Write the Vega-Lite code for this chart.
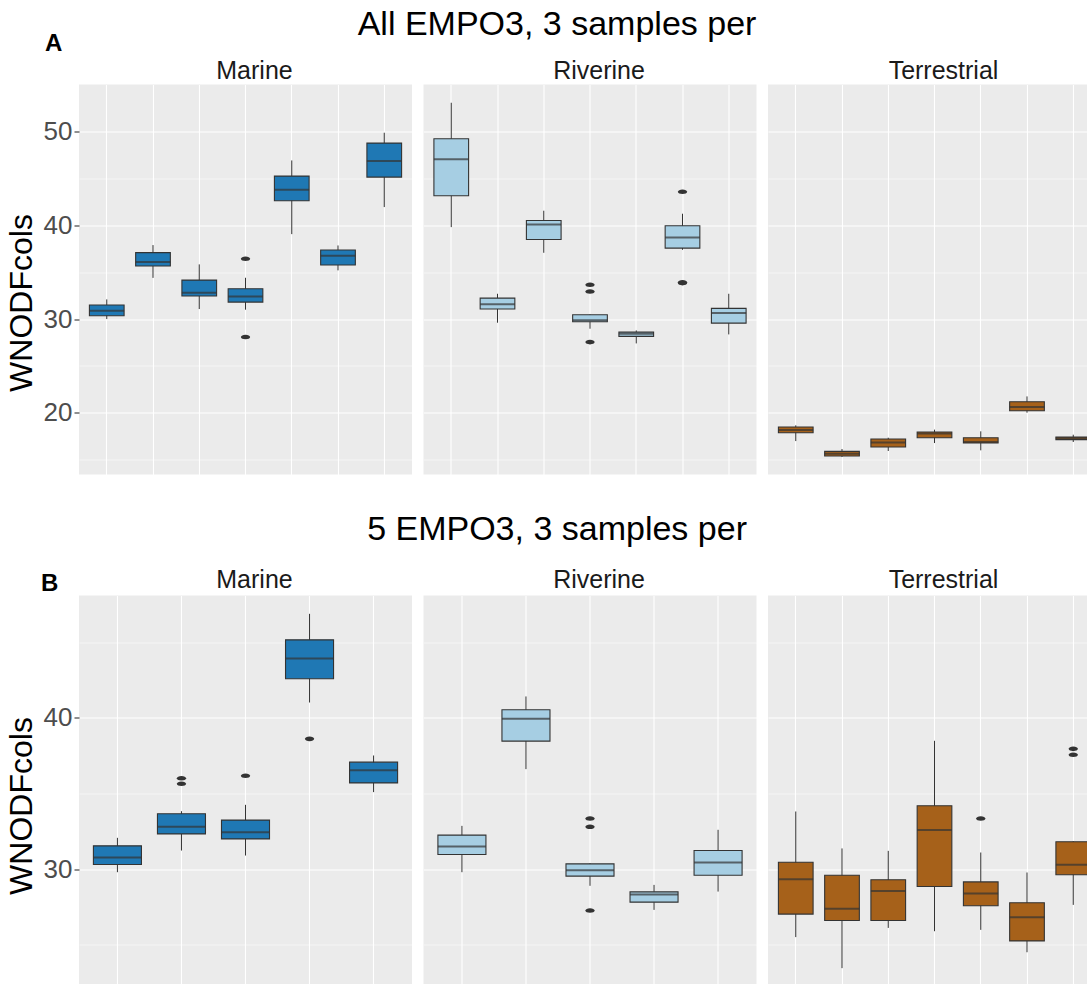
{
"$schema": "https://vega.github.io/schema/vega-lite/v6.json",
"padding": {"left": 5, "top": 7.5, "right": 0, "bottom": 0},
"background": "white",
"config": {
 "font": "Liberation Sans",
 "view": {"fill": "#ebebeb", "stroke": null},
 "title": {"font": "Liberation Sans", "fontWeight": "normal", "color": "#000000"},
 "axisX": {"domain": false, "ticks": false, "labels": false, "grid": true, "gridColor": "#ffffff", "gridWidth": 1.1},
 "axisY": {"domain": false, "tickColor": "#333333", "tickSize": 5, "tickWidth": 1.1, "labelFontSize": 26, "labelColor": "#4d4d4d", "labelPadding": 2, "labelFont": "Liberation Sans", "titleFont": "Liberation Sans", "titleFontSize": 32, "titleColor": "#000000", "titleFontWeight": "normal", "titlePadding": 5, "gridColor": "#ffffff"}
},
"datasets": {
 "boxes": [
  {"row":"A","panel":"Marine","group":"1","lw":30.0,"q1":30.36,"med":30.9,"q3":31.5,"uw":32.1},
  {"row":"A","panel":"Marine","group":"2","lw":34.4,"q1":35.66,"med":36.1,"q3":37.1,"uw":37.9},
  {"row":"A","panel":"Marine","group":"3","lw":31.07,"q1":32.46,"med":32.8,"q3":34.16,"uw":35.84},
  {"row":"A","panel":"Marine","group":"4","lw":31.0,"q1":31.81,"med":32.42,"q3":33.24,"uw":34.41},
  {"row":"A","panel":"Marine","group":"5","lw":39.07,"q1":42.63,"med":43.81,"q3":45.27,"uw":46.94},
  {"row":"A","panel":"Marine","group":"6","lw":35.2,"q1":35.77,"med":36.76,"q3":37.37,"uw":37.86},
  {"row":"A","panel":"Marine","group":"7","lw":41.96,"q1":45.16,"med":46.87,"q3":48.79,"uw":49.9},
  {"row":"A","panel":"Riverine","group":"1","lw":39.82,"q1":43.17,"med":47.08,"q3":49.25,"uw":53.1},
  {"row":"A","panel":"Riverine","group":"2","lw":29.61,"q1":31.07,"med":31.57,"q3":32.24,"uw":32.7},
  {"row":"A","panel":"Riverine","group":"3","lw":37.08,"q1":38.5,"med":40.11,"q3":40.53,"uw":41.57},
  {"row":"A","panel":"Riverine","group":"4","lw":28.97,"q1":29.72,"med":29.86,"q3":30.46,"uw":30.5},
  {"row":"A","panel":"Riverine","group":"5","lw":27.4,"q1":28.15,"med":28.43,"q3":28.61,"uw":28.79},
  {"row":"A","panel":"Riverine","group":"6","lw":37.4,"q1":37.58,"med":38.72,"q3":39.96,"uw":41.25},
  {"row":"A","panel":"Riverine","group":"7","lw":28.36,"q1":29.57,"med":30.64,"q3":31.14,"uw":32.7},
  {"row":"A","panel":"Terrestrial","group":"1","lw":16.97,"q1":17.86,"med":18.15,"q3":18.47,"uw":18.65},
  {"row":"A","panel":"Terrestrial","group":"2","lw":15.27,"q1":15.37,"med":15.62,"q3":15.87,"uw":16.12},
  {"row":"A","panel":"Terrestrial","group":"3","lw":15.91,"q1":16.33,"med":16.83,"q3":17.19,"uw":17.33},
  {"row":"A","panel":"Terrestrial","group":"4","lw":16.76,"q1":17.33,"med":17.79,"q3":17.94,"uw":18.19},
  {"row":"A","panel":"Terrestrial","group":"5","lw":15.98,"q1":16.76,"med":16.87,"q3":17.33,"uw":18.01},
  {"row":"A","panel":"Terrestrial","group":"6","lw":20.0,"q1":20.21,"med":20.6,"q3":21.17,"uw":21.74},
  {"row":"A","panel":"Terrestrial","group":"7","lw":16.87,"q1":17.12,"med":17.3,"q3":17.4,"uw":17.65},
  {"row":"B","panel":"Marine","group":"1","lw":29.8,"q1":30.31,"med":30.77,"q3":31.54,"uw":32.07},
  {"row":"B","panel":"Marine","group":"2","lw":31.23,"q1":32.33,"med":32.8,"q3":33.66,"uw":33.83},
  {"row":"B","panel":"Marine","group":"3","lw":30.9,"q1":32.0,"med":32.44,"q3":33.24,"uw":34.25},
  {"row":"B","panel":"Marine","group":"4","lw":41.01,"q1":42.58,"med":43.92,"q3":45.15,"uw":46.87},
  {"row":"B","panel":"Marine","group":"5","lw":35.09,"q1":35.7,"med":36.54,"q3":37.07,"uw":37.51},
  {"row":"B","panel":"Riverine","group":"1","lw":29.8,"q1":30.97,"med":31.5,"q3":32.25,"uw":32.86},
  {"row":"B","panel":"Riverine","group":"2","lw":36.61,"q1":38.46,"med":39.93,"q3":40.53,"uw":41.41},
  {"row":"B","panel":"Riverine","group":"3","lw":28.9,"q1":29.54,"med":29.93,"q3":30.35,"uw":30.4},
  {"row":"B","panel":"Riverine","group":"4","lw":27.31,"q1":27.82,"med":28.33,"q3":28.5,"uw":28.96},
  {"row":"B","panel":"Riverine","group":"5","lw":28.52,"q1":29.6,"med":30.44,"q3":31.23,"uw":32.6},
  {"row":"B","panel":"Terrestrial","group":"1","lw":25.51,"q1":27.03,"med":29.34,"q3":30.46,"uw":33.81},
  {"row":"B","panel":"Terrestrial","group":"2","lw":23.46,"q1":26.61,"med":27.38,"q3":29.6,"uw":31.37},
  {"row":"B","panel":"Terrestrial","group":"3","lw":26.12,"q1":26.61,"med":28.55,"q3":29.3,"uw":31.21},
  {"row":"B","panel":"Terrestrial","group":"4","lw":25.9,"q1":28.85,"med":32.58,"q3":34.19,"uw":38.48},
  {"row":"B","panel":"Terrestrial","group":"5","lw":25.99,"q1":27.58,"med":28.39,"q3":29.16,"uw":31.1},
  {"row":"B","panel":"Terrestrial","group":"6","lw":24.51,"q1":25.26,"med":26.83,"q3":27.78,"uw":29.78},
  {"row":"B","panel":"Terrestrial","group":"7","lw":27.64,"q1":29.63,"med":30.29,"q3":31.81,"uw":31.85}
 ],
 "outliers": [
  {"row":"A","panel":"Marine","group":"4","value":36.44},
  {"row":"A","panel":"Marine","group":"4","value":28.08},
  {"row":"A","panel":"Riverine","group":"4","value":33.67},
  {"row":"A","panel":"Riverine","group":"4","value":32.95},
  {"row":"A","panel":"Riverine","group":"4","value":27.54},
  {"row":"A","panel":"Riverine","group":"6","value":43.6},
  {"row":"A","panel":"Riverine","group":"6","value":33.84},
  {"row":"A","panel":"Riverine","group":"6","value":33.92},
  {"row":"B","panel":"Marine","group":"2","value":36.01},
  {"row":"B","panel":"Marine","group":"2","value":35.64},
  {"row":"B","panel":"Marine","group":"3","value":36.17},
  {"row":"B","panel":"Marine","group":"4","value":38.61},
  {"row":"B","panel":"Riverine","group":"3","value":33.35},
  {"row":"B","panel":"Riverine","group":"3","value":32.8},
  {"row":"B","panel":"Riverine","group":"3","value":27.27},
  {"row":"B","panel":"Terrestrial","group":"5","value":33.35},
  {"row":"B","panel":"Terrestrial","group":"7","value":37.95},
  {"row":"B","panel":"Terrestrial","group":"7","value":37.56}
 ]
},
"spacing": 38,
"vconcat": [
 {"title": {"text": "A", "anchor": "start", "frame": "bounds", "fontWeight": "bold", "fontSize": 24, "dx": 40, "dy": 51.5},
  "vconcat": [
   {"title": {"text": "All EMPO3, 3 samples per", "fontSize": 34, "anchor": "middle", "frame": "bounds", "offset": 16.5, "dx": 4},
    "spacing": 11.5,
    "hconcat": [
     {"width": 333, "height": 390,
      "title": {"text": "Marine", "fontSize": 25, "color": "#1a1a1a", "dx": 9, "offset": 1},
      "data": {"name": "boxes"},
      "transform": [{"filter": "datum.row === 'A' && datum.panel === 'Marine'"}],
      "encoding": {"x": {"field": "group", "type": "nominal", "title": null, "scale": {"paddingInner": 0, "paddingOuter": 0.1}}},
      "layer": [
       {"mark": {"type": "rule", "color": "#333333", "strokeWidth": 1},
        "encoding": {"y": {"field": "lw", "type": "quantitative", "title": "WNODFcols", "scale": {"domain": [13.4, 55.05], "nice": false, "zero": false},
          "axis": {"values": [15,20,25,30,35,40,45,50], "titleY": 218, "labelExpr": "datum.value % 10 === 0 ? datum.label : ''", "tickOpacity": {"condition": {"test": "datum.value % 10 === 0", "value": 1}, "value": 0}, "gridWidth": {"condition": {"test": "datum.value % 10 === 0", "value": 1.1}, "value": 0.55}}},
         "y2": {"field": "uw"}}},
       {"mark": {"type": "bar", "width": {"band": 0.75}, "fill": "#1f78b4", "stroke": "#333333", "strokeWidth": 1.1},
        "encoding": {"y": {"field": "q1", "type": "quantitative", "title": "WNODFcols", "scale": {"domain": [13.4, 55.05], "nice": false, "zero": false}}, "y2": {"field": "q3"}}},
       {"mark": {"type": "tick", "color": "#333333", "thickness": 2, "size": 34.7},
        "encoding": {"y": {"field": "med", "type": "quantitative", "title": "WNODFcols", "scale": {"domain": [13.4, 55.05], "nice": false, "zero": false}}}},
       {"data": {"name": "outliers"}, "transform": [{"filter": "datum.row === 'A' && datum.panel === 'Marine'"}],
        "mark": {"type": "point", "filled": true, "color": "#333333", "opacity": 1, "size": 85, "shape": "M-1,0A1,0.5 0 1,1 1,0A1,0.5 0 1,1 -1,0Z"},
        "encoding": {"y": {"field": "value", "type": "quantitative", "title": "WNODFcols", "scale": {"domain": [13.4, 55.05], "nice": false, "zero": false}}}}
      ]},
     {"width": 333, "height": 390,
      "title": {"text": "Riverine", "fontSize": 25, "color": "#1a1a1a", "dx": 9, "offset": 1},
      "data": {"name": "boxes"},
      "transform": [{"filter": "datum.row === 'A' && datum.panel === 'Riverine'"}],
      "encoding": {"x": {"field": "group", "type": "nominal", "title": null, "scale": {"paddingInner": 0, "paddingOuter": 0.1}}},
      "layer": [
       {"mark": {"type": "rule", "color": "#333333", "strokeWidth": 1},
        "encoding": {"y": {"field": "lw", "type": "quantitative", "title": null, "scale": {"domain": [13.4, 55.05], "nice": false, "zero": false},
          "axis": {"values": [15,20,25,30,35,40,45,50], "labels": false, "ticks": false, "gridWidth": {"condition": {"test": "datum.value % 10 === 0", "value": 1.1}, "value": 0.55}}},
         "y2": {"field": "uw"}}},
       {"mark": {"type": "bar", "width": {"band": 0.75}, "fill": "#a6cee3", "stroke": "#333333", "strokeWidth": 1.1},
        "encoding": {"y": {"field": "q1", "type": "quantitative", "title": null, "scale": {"domain": [13.4, 55.05], "nice": false, "zero": false}}, "y2": {"field": "q3"}}},
       {"mark": {"type": "tick", "color": "#333333", "thickness": 2, "size": 34.7},
        "encoding": {"y": {"field": "med", "type": "quantitative", "title": null, "scale": {"domain": [13.4, 55.05], "nice": false, "zero": false}}}},
       {"data": {"name": "outliers"}, "transform": [{"filter": "datum.row === 'A' && datum.panel === 'Riverine'"}],
        "mark": {"type": "point", "filled": true, "color": "#333333", "opacity": 1, "size": 85, "shape": "M-1,0A1,0.5 0 1,1 1,0A1,0.5 0 1,1 -1,0Z"},
        "encoding": {"y": {"field": "value", "type": "quantitative", "title": null, "scale": {"domain": [13.4, 55.05], "nice": false, "zero": false}}}}
      ]},
     {"width": 321, "height": 390,
      "title": {"text": "Terrestrial", "fontSize": 25, "color": "#1a1a1a", "dx": 15, "offset": 1},
      "data": {"name": "boxes"},
      "transform": [{"filter": "datum.row === 'A' && datum.panel === 'Terrestrial'"}],
      "encoding": {"x": {"field": "group", "type": "nominal", "title": null, "scale": {"paddingInner": 0, "paddingOuter": 0.1, "range": [0, 333]}}},
      "layer": [
       {"mark": {"type": "rule", "color": "#333333", "strokeWidth": 1, "clip": true},
        "encoding": {"y": {"field": "lw", "type": "quantitative", "title": null, "scale": {"domain": [13.4, 55.05], "nice": false, "zero": false},
          "axis": {"values": [15,20,25,30,35,40,45,50], "labels": false, "ticks": false, "gridWidth": {"condition": {"test": "datum.value % 10 === 0", "value": 1.1}, "value": 0.55}}},
         "y2": {"field": "uw"}}},
       {"mark": {"type": "bar", "width": {"band": 0.75}, "fill": "#a6611a", "stroke": "#333333", "strokeWidth": 1.1, "clip": true},
        "encoding": {"y": {"field": "q1", "type": "quantitative", "title": null, "scale": {"domain": [13.4, 55.05], "nice": false, "zero": false}}, "y2": {"field": "q3"}}},
       {"mark": {"type": "tick", "color": "#333333", "thickness": 2, "size": 34.7, "clip": true},
        "encoding": {"y": {"field": "med", "type": "quantitative", "title": null, "scale": {"domain": [13.4, 55.05], "nice": false, "zero": false}}}}
      ]}
    ]}
  ]},
 {"title": {"text": "B", "anchor": "start", "frame": "bounds", "fontWeight": "bold", "fontSize": 24, "dx": 36, "dy": 87},
  "vconcat": [
   {"title": {"text": "5 EMPO3, 3 samples per", "fontSize": 34, "anchor": "middle", "frame": "bounds", "offset": 21, "dx": 4},
    "spacing": 11.5,
    "hconcat": [
     {"width": 333, "height": 389,
      "title": {"text": "Marine", "fontSize": 25, "color": "#1a1a1a", "dx": 9, "offset": 3},
      "data": {"name": "boxes"},
      "transform": [{"filter": "datum.row === 'B' && datum.panel === 'Marine'"}],
      "encoding": {"x": {"field": "group", "type": "nominal", "title": null, "scale": {"paddingInner": 0, "paddingOuter": 0.1}}},
      "layer": [
       {"mark": {"type": "rule", "color": "#333333", "strokeWidth": 1},
        "encoding": {"y": {"field": "lw", "type": "quantitative", "title": "WNODFcols", "scale": {"domain": [22.38, 48.08], "nice": false, "zero": false},
          "axis": {"values": [25,30,35,40,45], "titleY": 210, "labelExpr": "datum.value % 10 === 0 ? datum.label : ''", "tickOpacity": {"condition": {"test": "datum.value % 10 === 0", "value": 1}, "value": 0}, "gridWidth": {"condition": {"test": "datum.value % 10 === 0", "value": 1.1}, "value": 0.55}}},
         "y2": {"field": "uw"}}},
       {"mark": {"type": "bar", "width": {"band": 0.75}, "fill": "#1f78b4", "stroke": "#333333", "strokeWidth": 1.1},
        "encoding": {"y": {"field": "q1", "type": "quantitative", "title": "WNODFcols", "scale": {"domain": [22.38, 48.08], "nice": false, "zero": false}}, "y2": {"field": "q3"}}},
       {"mark": {"type": "tick", "color": "#333333", "thickness": 2, "size": 48},
        "encoding": {"y": {"field": "med", "type": "quantitative", "title": "WNODFcols", "scale": {"domain": [22.38, 48.08], "nice": false, "zero": false}}}},
       {"data": {"name": "outliers"}, "transform": [{"filter": "datum.row === 'B' && datum.panel === 'Marine'"}],
        "mark": {"type": "point", "filled": true, "color": "#333333", "opacity": 1, "size": 85, "shape": "M-1,0A1,0.5 0 1,1 1,0A1,0.5 0 1,1 -1,0Z"},
        "encoding": {"y": {"field": "value", "type": "quantitative", "title": "WNODFcols", "scale": {"domain": [22.38, 48.08], "nice": false, "zero": false}}}}
      ]},
     {"width": 333, "height": 389,
      "title": {"text": "Riverine", "fontSize": 25, "color": "#1a1a1a", "dx": 9, "offset": 3},
      "data": {"name": "boxes"},
      "transform": [{"filter": "datum.row === 'B' && datum.panel === 'Riverine'"}],
      "encoding": {"x": {"field": "group", "type": "nominal", "title": null, "scale": {"paddingInner": 0, "paddingOuter": 0.1}}},
      "layer": [
       {"mark": {"type": "rule", "color": "#333333", "strokeWidth": 1},
        "encoding": {"y": {"field": "lw", "type": "quantitative", "title": null, "scale": {"domain": [22.38, 48.08], "nice": false, "zero": false},
          "axis": {"values": [25,30,35,40,45], "labels": false, "ticks": false, "gridWidth": {"condition": {"test": "datum.value % 10 === 0", "value": 1.1}, "value": 0.55}}},
         "y2": {"field": "uw"}}},
       {"mark": {"type": "bar", "width": {"band": 0.75}, "fill": "#a6cee3", "stroke": "#333333", "strokeWidth": 1.1},
        "encoding": {"y": {"field": "q1", "type": "quantitative", "title": null, "scale": {"domain": [22.38, 48.08], "nice": false, "zero": false}}, "y2": {"field": "q3"}}},
       {"mark": {"type": "tick", "color": "#333333", "thickness": 2, "size": 48},
        "encoding": {"y": {"field": "med", "type": "quantitative", "title": null, "scale": {"domain": [22.38, 48.08], "nice": false, "zero": false}}}},
       {"data": {"name": "outliers"}, "transform": [{"filter": "datum.row === 'B' && datum.panel === 'Riverine'"}],
        "mark": {"type": "point", "filled": true, "color": "#333333", "opacity": 1, "size": 85, "shape": "M-1,0A1,0.5 0 1,1 1,0A1,0.5 0 1,1 -1,0Z"},
        "encoding": {"y": {"field": "value", "type": "quantitative", "title": null, "scale": {"domain": [22.38, 48.08], "nice": false, "zero": false}}}}
      ]},
     {"width": 321, "height": 389,
      "title": {"text": "Terrestrial", "fontSize": 25, "color": "#1a1a1a", "dx": 15, "offset": 3},
      "data": {"name": "boxes"},
      "transform": [{"filter": "datum.row === 'B' && datum.panel === 'Terrestrial'"}],
      "encoding": {"x": {"field": "group", "type": "nominal", "title": null, "scale": {"paddingInner": 0, "paddingOuter": 0.1, "range": [0, 333]}}},
      "layer": [
       {"mark": {"type": "rule", "color": "#333333", "strokeWidth": 1, "clip": true},
        "encoding": {"y": {"field": "lw", "type": "quantitative", "title": null, "scale": {"domain": [22.38, 48.08], "nice": false, "zero": false},
          "axis": {"values": [25,30,35,40,45], "labels": false, "ticks": false, "gridWidth": {"condition": {"test": "datum.value % 10 === 0", "value": 1.1}, "value": 0.55}}},
         "y2": {"field": "uw"}}},
       {"mark": {"type": "bar", "width": {"band": 0.75}, "fill": "#a6611a", "stroke": "#333333", "strokeWidth": 1.1, "clip": true},
        "encoding": {"y": {"field": "q1", "type": "quantitative", "title": null, "scale": {"domain": [22.38, 48.08], "nice": false, "zero": false}}, "y2": {"field": "q3"}}},
       {"mark": {"type": "tick", "color": "#333333", "thickness": 2, "size": 34.7, "clip": true},
        "encoding": {"y": {"field": "med", "type": "quantitative", "title": null, "scale": {"domain": [22.38, 48.08], "nice": false, "zero": false}}}},
       {"data": {"name": "outliers"}, "transform": [{"filter": "datum.row === 'B' && datum.panel === 'Terrestrial'"}],
        "mark": {"type": "point", "filled": true, "color": "#333333", "opacity": 1, "size": 85, "clip": true, "shape": "M-1,0A1,0.5 0 1,1 1,0A1,0.5 0 1,1 -1,0Z"},
        "encoding": {"y": {"field": "value", "type": "quantitative", "title": null, "scale": {"domain": [22.38, 48.08], "nice": false, "zero": false}}}}
      ]}
    ]}
  ]}
]
}
